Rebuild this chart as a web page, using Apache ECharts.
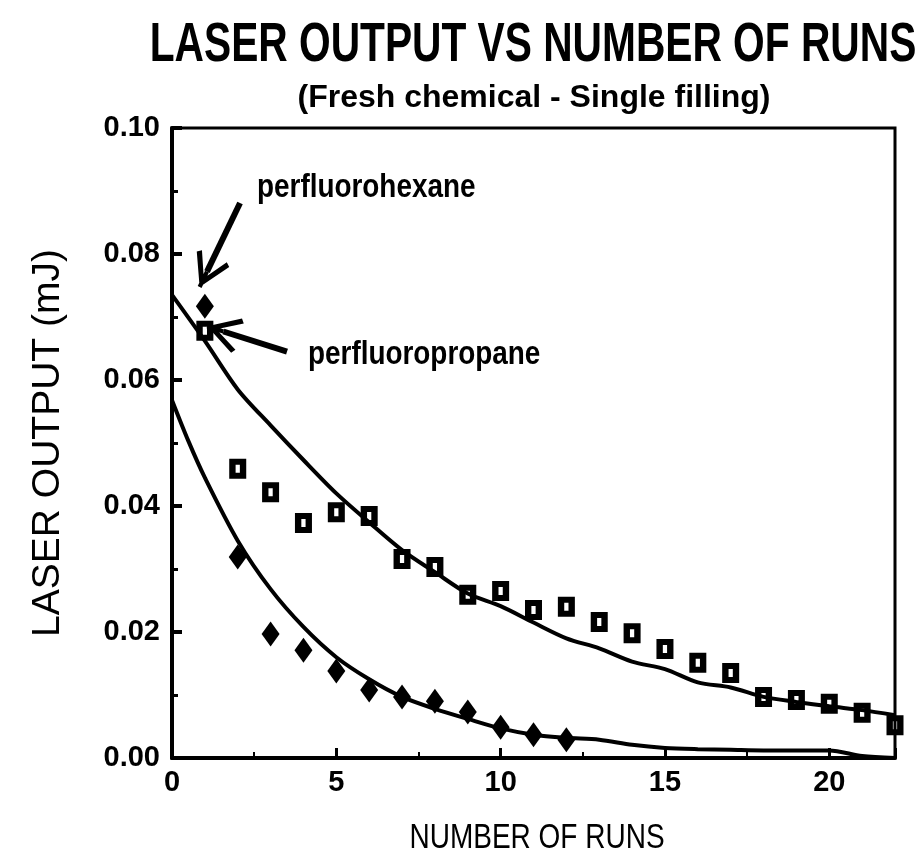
<!DOCTYPE html>
<html><head><meta charset="utf-8">
<script src="https://cdn.jsdelivr.net/npm/echarts@6/dist/echarts.min.js"></script>
<style>html,body{margin:0;padding:0;background:#fff}#c{width:923px;height:861px}</style>
</head><body><div id="c"></div>
<script>
// ---- data ----
const hexaneRuns   = [1, 2, 3, 4, 5, 6, 7, 8, 9, 10, 11, 12];
const hexaneOutput = [0.0717, 0.0319, 0.0197, 0.0171, 0.0138, 0.0108, 0.0097, 0.0090, 0.0073, 0.0049, 0.0037, 0.0029];

const propaneRuns   = [1, 2, 3, 4, 5, 6, 7, 8, 9, 10, 11, 12, 13, 14, 15, 16, 17, 18, 19, 20, 21, 22];
const propaneOutput = [0.0678, 0.0459, 0.0422, 0.0373, 0.0390, 0.0384, 0.0316, 0.0303, 0.0259, 0.0265, 0.0235, 0.0240,
                       0.0216, 0.0198, 0.0173, 0.0151, 0.0135, 0.0097, 0.0092, 0.0086, 0.0072, 0.0052];

const propaneFitX = [0, 1, 2, 3, 4, 5, 6, 7, 8, 9, 10, 11, 12, 13, 14, 15, 16, 17, 18, 19, 20, 21, 22];
const propaneFitY = [0.0735, 0.0662, 0.0585, 0.0528, 0.0473, 0.0420, 0.0374, 0.0330, 0.0295, 0.0261, 0.0241, 0.0215,
                     0.0190, 0.0174, 0.0153, 0.0141, 0.0120, 0.0112, 0.0097, 0.0089, 0.0082, 0.0076, 0.0068];

const hexaneFitX = [0, 0.5, 1, 2, 3, 4, 5, 6, 7, 8, 9, 10, 11, 12, 13, 14, 15, 16, 17, 18, 19, 20, 21, 22];
const hexaneFitY = [0.0568, 0.0503, 0.0445, 0.0345, 0.0268, 0.0208, 0.0160, 0.0125, 0.0097, 0.0078, 0.0062, 0.0047,
                    0.0037, 0.0032, 0.0029, 0.0021, 0.0016, 0.0014, 0.0013, 0.0012, 0.0012, 0.0012, 0.0003, 0.0000];

const xTicks = { min: 0, max: 22, interval: 5 };
const yTicks = { min: 0, max: 0.10, interval: 0.02 };

const titleText = 'LASER OUTPUT VS NUMBER OF RUNS';
const subTitleText = '(Fresh chemical - Single filling)';
const xName = 'NUMBER OF RUNS';
const yName = 'LASER OUTPUT (mJ)';
const hexaneLabel = 'perfluorohexane';
const propaneLabel = 'perfluoropropane';
// annotation arrows: [tail, head-centre] in data coordinates
const hexaneArrow = [[2.07, 0.0881], [1.065, 0.0772]];
const propaneArrow = [[3.50, 0.0645], [1.564, 0.0677]];

const zip = (a, b) => a.map((v, i) => [v, b[i]]);
const SANS = '"Liberation Sans", Arial, sans-serif';
const arrowHead = 'path://M17,0 L34,29 L30,32 L17,9 L4,32 L0,29 Z M15,0 L19,0 L19,16 L15,16 Z';

const chart = echarts.init(document.getElementById('c'), null, { renderer: 'canvas' });
chart.setOption({
  backgroundColor: '#fff',
  animation: false,
  grid: { left: 172, right: 28, top: 128, bottom: 103, show: true, borderColor: '#000', borderWidth: 3, backgroundColor: 'transparent' },
  xAxis: {
    type: 'value', min: xTicks.min, max: xTicks.max, interval: xTicks.interval,
    axisLine: { lineStyle: { color: '#000', width: 4 } },
    axisTick: { inside: true, length: 10, lineStyle: { color: '#000', width: 3 } },
    minorTick: { show: true, splitNumber: 2, length: 6, lineStyle: { color: '#000', width: 2 } },
    splitLine: { show: false },
    axisLabel: { showMaxLabel: false, margin: 10, fontFamily: SANS, fontWeight: 'bold', fontSize: 29, color: '#000' }
  },
  yAxis: {
    type: 'value', min: yTicks.min, max: yTicks.max, interval: yTicks.interval,
    name: yName, nameLocation: 'middle', nameGap: 104,
    nameTextStyle: { fontFamily: SANS, fontSize: 39, color: '#000' },
    axisLine: { lineStyle: { color: '#000', width: 4 } },
    axisTick: { inside: true, length: 10, lineStyle: { color: '#000', width: 4 } },
    minorTick: { show: true, splitNumber: 2, length: 6, lineStyle: { color: '#000', width: 3 } },
    splitLine: { show: false },
    axisLabel: { margin: 12, fontFamily: SANS, fontWeight: 'bold', fontSize: 29, color: '#000', formatter: v => v.toFixed(2) }
  },
  series: [
    { name: 'perfluoropropane fit', type: 'line', data: zip(propaneFitX, propaneFitY), smooth: 0.3, showSymbol: false,
      lineStyle: { color: '#000', width: 4 }, z: 2 },
    { name: 'perfluorohexane fit', type: 'line', data: zip(hexaneFitX, hexaneFitY), smooth: 0.3, showSymbol: false,
      lineStyle: { color: '#000', width: 4 }, z: 2 },
    { name: 'perfluorohexane', type: 'scatter', data: zip(hexaneRuns, hexaneOutput), symbol: 'diamond', symbolSize: [18, 25],
      itemStyle: { color: '#000', opacity: 1 }, z: 3 },
    { name: 'perfluoropropane', type: 'scatter', data: zip(propaneRuns, propaneOutput),
      symbol: 'path://M0,0L16,0L16,20L0,20Z M6,6L6,14L10,14L10,6Z', symbolSize: [17, 20],
      itemStyle: { color: '#000', opacity: 1 }, z: 3 },
    { name: 'arrows', type: 'line', data: [], z: 4,
      markLine: { silent: true, symbol: ['none', arrowHead], symbolSize: [36, 34], label: { show: false },
        lineStyle: { color: '#000', width: 6, type: 'solid', opacity: 1 },
        data: [
          [{ coord: hexaneArrow[0] }, { coord: hexaneArrow[1] }],
          [{ coord: propaneArrow[0] }, { coord: propaneArrow[1] }]
        ] } }
  ],
  graphic: [
    { type: 'text', x: 533, y: 46, scaleX: 0.74, style: { text: titleText, font: 'bold 55px ' + SANS, fill: '#000', align: 'center', verticalAlign: 'middle' } },
    { type: 'text', x: 534, y: 98, style: { text: subTitleText, font: 'bold 32px ' + SANS, fill: '#000', align: 'center', verticalAlign: 'middle' } },
    { type: 'text', x: 537, y: 838, scaleX: 0.8, style: { text: xName, font: '35px ' + SANS, fill: '#000', align: 'center', verticalAlign: 'middle' } },
    { type: 'text', x: 257, y: 188, scaleX: 0.82, style: { text: hexaneLabel, font: 'bold 34px ' + SANS, fill: '#000', align: 'left', verticalAlign: 'middle' } },
    { type: 'text', x: 308, y: 355, scaleX: 0.82, style: { text: propaneLabel, font: 'bold 34px ' + SANS, fill: '#000', align: 'left', verticalAlign: 'middle' } }
  ]
});
</script></body></html>
